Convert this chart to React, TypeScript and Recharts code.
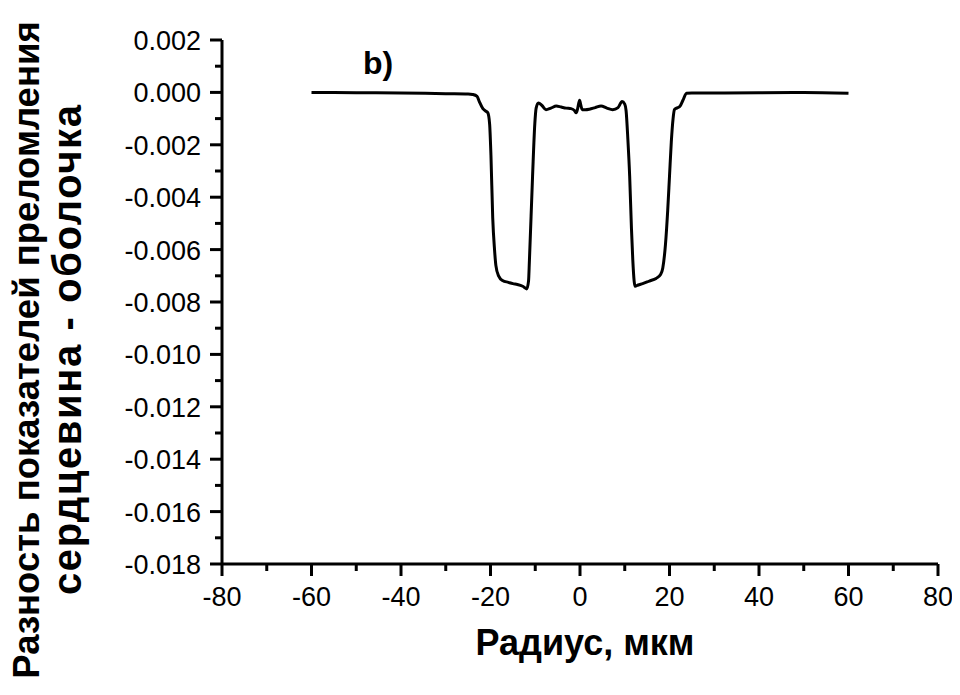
import React from "react";
import { LineChart, Line, XAxis, YAxis } from "recharts";

const radius = [
  -60, -50, -40, -30, -25, -24, -23, -22.5, -21.7, -21, -20.6, -20.2, -19.9, -19.5, -19.1, -18.8, -18.2,
  -17.3, -16, -15, -14, -12.8, -11.9, -11.5, -11.3, -10.6, -10.1, -9.8, -9.3, -8.5, -7.6, -6.5, -5.3,
  -4.2, -3.1, -2, -1.2, -0.85, -0.5, -0.1, 0.2, 0.5, 1.2, 2.1, 3.4, 4.7, 6, 7.3, 8.5, 9.4, 10, 10.3,
  10.7, 11.1, 11.5, 11.8, 12.1, 12.3, 13, 14, 15.5, 17, 18, 18.5, 19.1, 19.6, 20, 20.4, 20.8, 21.1,
  21.6, 22.3, 23, 23.8, 25, 30, 40, 50, 60,
];

const deltaN = [
  0.0, -0.00001, -0.00002, -0.00005, -0.00006, -0.00008, -0.00015, -0.00035, -0.00062, -0.00072,
  -0.00078, -0.0012, -0.0024, -0.0048, -0.006, -0.0066, -0.007, -0.00718, -0.00725, -0.0073, -0.00733,
  -0.0074, -0.0075, -0.0072, -0.0064, -0.0032, -0.0012, -0.0006, -0.0004, -0.0005, -0.00066, -0.0006,
  -0.00052, -0.00056, -0.0006, -0.00062, -0.0007, -0.00078, -0.0006, -0.0003, -0.0005, -0.00066,
  -0.00066, -0.00064, -0.00058, -0.00052, -0.0006, -0.00066, -0.00058, -0.00035, -0.00045, -0.0007,
  -0.0018, -0.0032, -0.0052, -0.0064, -0.0072, -0.0074, -0.00735, -0.0073, -0.0072, -0.0071, -0.00695,
  -0.0067, -0.0058, -0.0045, -0.0032, -0.0019, -0.001, -0.00066, -0.0006, -0.00054, -0.0003, -0.00003,
  -0.00002, -0.00002, -0.00001, 0.0, -0.00003,
];

const xTicks = [-80, -70, -60, -50, -40, -30, -20, -10, 0, 10, 20, 30, 40, 50, 60, 70, 80];
const xMajor = [-80, -60, -40, -20, 0, 20, 40, 60, 80];
const yTicks = [
  -0.018, -0.017, -0.016, -0.015, -0.014, -0.013, -0.012, -0.011, -0.01, -0.009, -0.008, -0.007,
  -0.006, -0.005, -0.004, -0.003, -0.002, -0.001, 0, 0.001, 0.002,
];
const yMajor = [-0.018, -0.016, -0.014, -0.012, -0.01, -0.008, -0.006, -0.004, -0.002, 0, 0.002];

const data = radius.map((r, i) => ({ r, dn: deltaN[i] }));

const FONT = "'Liberation Sans', Arial, sans-serif";
const TICK_FS = 27;

const isMajor = (v: number, list: number[]) => list.some((m) => Math.abs(m - v) < 1e-9);

const XTick = (props: any) => {
  const { x, y, payload } = props;
  const major = isMajor(payload.value, xMajor);
  return (
    <g>
      <line x1={x} x2={x} y1={y} y2={y + (major ? 12 : 7)} stroke="#000" strokeWidth={3} />
      {major && (
        <text x={x} y={y + 42} textAnchor="middle" fontFamily={FONT} fontSize={TICK_FS} fill="#000">
          {String(payload.value)}
        </text>
      )}
    </g>
  );
};

const YTick = (props: any) => {
  const { x, y, payload } = props;
  const major = isMajor(payload.value, yMajor);
  return (
    <g>
      <line x1={x} x2={x - (major ? 12 : 7)} y1={y} y2={y} stroke="#000" strokeWidth={3} />
      {major && (
        <text x={x - 21} y={y + 10} textAnchor="end" fontFamily={FONT} fontSize={TICK_FS} fill="#000">
          {payload.value.toFixed(3)}
        </text>
      )}
    </g>
  );
};

export default function App() {
  const W = 944;
  const H = 687;
  return (
    <div style={{ position: "relative", width: W, height: H }}>
      <LineChart width={W} height={H} data={data} margin={{ top: 32, right: 14, bottom: 0, left: 0 }}>
        <XAxis
          dataKey="r"
          type="number"
          domain={[-80, 80]}
          ticks={xTicks}
          interval={0}
          height={131}
          tickSize={0}
          tickMargin={0}
          tickLine={false}
          axisLine={{ stroke: "#000", strokeWidth: 3 }}
          tick={<XTick />}
        />
        <YAxis
          type="number"
          domain={[-0.018, 0.002]}
          ticks={yTicks}
          interval={0}
          width={214}
          tickSize={0}
          tickMargin={0}
          tickLine={false}
          axisLine={{ stroke: "#000", strokeWidth: 3 }}
          tick={<YTick />}
        />
        <Line
          dataKey="dn"
          type="monotone"
          stroke="#000"
          strokeWidth={3}
          dot={false}
          isAnimationActive={false}
        />
      </LineChart>
      <svg
        width={W}
        height={H}
        style={{ position: "absolute", left: 0, top: 0, pointerEvents: "none" }}
      >
        <text x={355} y={66} fontFamily={FONT} fontSize={32} fontWeight="bold" fill="#000">
          b)
        </text>
        <text x={577} y={647} textAnchor="middle" fontFamily={FONT} fontSize={36} fontWeight="bold" fill="#000">
          Радиус, мкм
        </text>
        <text
          transform="translate(31,342) rotate(-90)"
          textAnchor="middle"
          fontFamily={FONT}
          fontSize={36.5}
          fontWeight="bold"
          fill="#000"
        >
          Разность показателей преломления
        </text>
        <text
          transform="translate(73,342) rotate(-90)"
          textAnchor="middle"
          fontFamily={FONT}
          fontSize={40}
          fontWeight="bold"
          fill="#000"
          textLength={490}
          lengthAdjust="spacing"
        >
          сердцевина - оболочка
        </text>
      </svg>
    </div>
  );
}
